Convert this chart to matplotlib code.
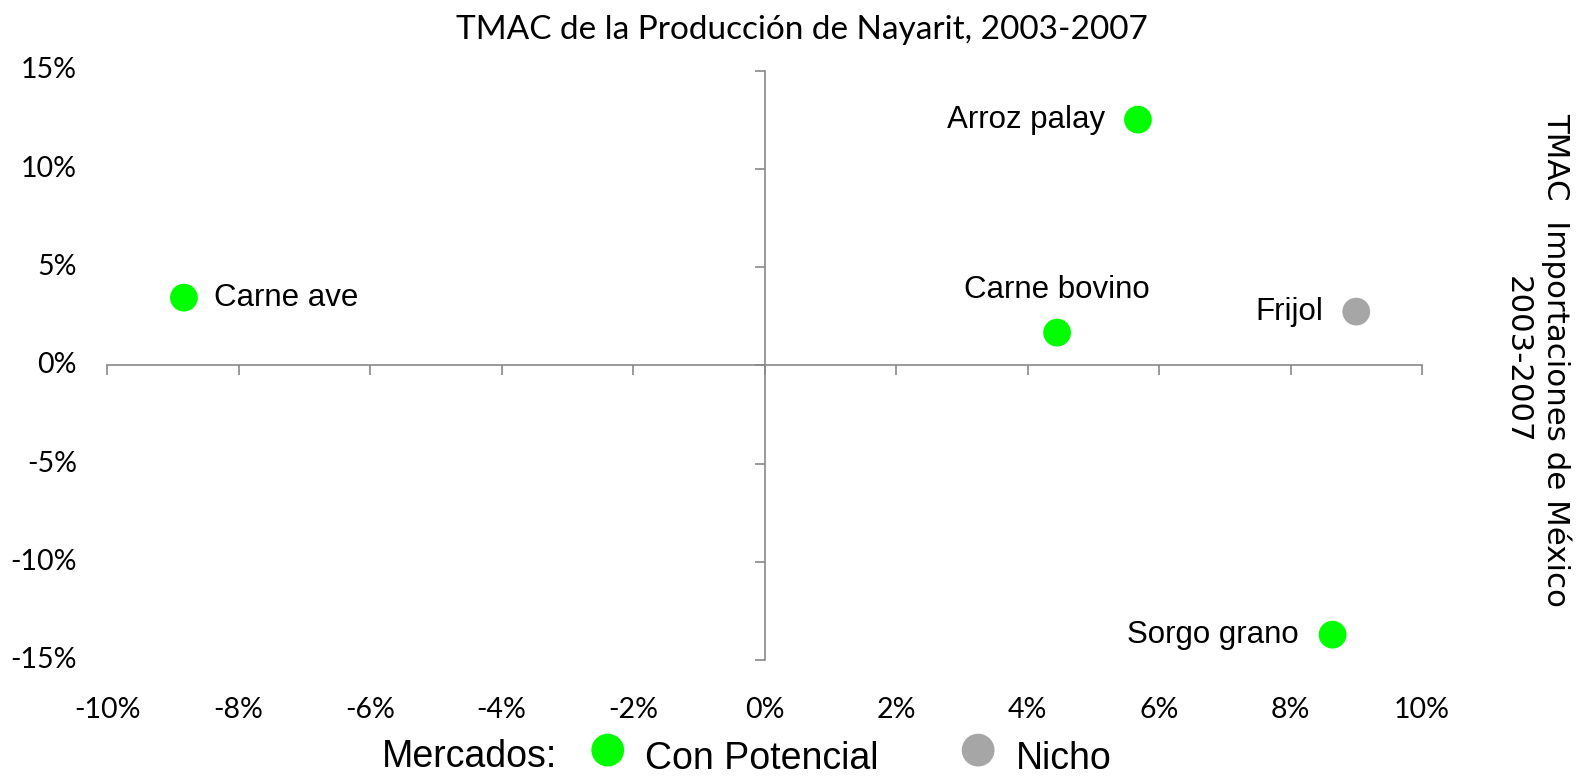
import matplotlib
matplotlib.use("Agg")
import matplotlib.pyplot as plt
import numpy as np

# ---- data ----
products = ["Carne ave", "Arroz palay", "Carne bovino", "Frijol", "Sorgo grano"]
prod_growth = [-8.83, 5.68, 4.45, 9.00, 8.64]      # TMAC Producción Nayarit (%)
import_growth = [3.44, 12.50, 1.66, 2.73, -13.71]  # TMAC Importaciones México (%)
market = ["Con Potencial", "Con Potencial", "Con Potencial", "Nicho", "Con Potencial"]
label_side = ["right", "left", "top", "left", "left"]

market_names = ["Con Potencial", "Nicho"]
market_colors = {"Con Potencial": "#00FF00", "Nicho": "#A6A6A6"}

x_ticks = [-10, -8, -6, -4, -2, 0, 2, 4, 6, 8, 10]
y_ticks = [-15, -10, -5, 0, 5, 10, 15]

title = "TMAC de la Producción de Nayarit, 2003-2007"
right_label = "TMAC  Importaciones de México\n2003-2007"

# ---- figure ----
W, H = 1577, 776
fig = plt.figure(figsize=(W / 100, H / 100), dpi=100)
ax = fig.add_axes([107 / W, 1 - 660 / H, (1422 - 107) / W, (660 - 70.5) / H])

ax.set_xlim(x_ticks[0], x_ticks[-1])
ax.set_ylim(y_ticks[0], y_ticks[-1])

spine_col = "#898989"
for s in ["top", "right"]:
    ax.spines[s].set_visible(False)
ax.spines["left"].set_position(("data", 0))
ax.spines["bottom"].set_position(("data", 0))
for s in ["left", "bottom"]:
    ax.spines[s].set_color(spine_col)
    ax.spines[s].set_linewidth(1.2)

ax.set_xticks(x_ticks)
ax.set_yticks(y_ticks)
ax.tick_params(axis="both", direction="out", length=7.5, width=1.2, color=spine_col,
               labelbottom=False, labelleft=False)

tick_font = dict(family="Lato", fontsize=20.5, color="black")
for xv in x_ticks:
    ax.text(xv, -0.084, f"{xv}%", transform=ax.get_xaxis_transform(),
            ha="center", va="center", **tick_font)
for yv in y_ticks:
    ax.text(-0.023, yv, f"{yv}%", transform=ax.get_yaxis_transform(),
            ha="right", va="center", **tick_font)

# scatter by market type
for m in market_names:
    xs = [x for x, mk in zip(prod_growth, market) if mk == m]
    ys = [y for y, mk in zip(import_growth, market) if mk == m]
    ax.scatter(xs, ys, s=400, color=market_colors[m], edgecolors="none",
               label=m, zorder=3, clip_on=False)

# point labels
offsets = {"right": ((21.5, 0), "left", "center"),
           "left": ((-24, 0), "right", "center"),
           "top": ((0, 31), "center", "center")}
for name, x, y, side in zip(products, prod_growth, import_growth, label_side):
    off, ha, va = offsets[side]
    ax.annotate(name, (x, y), xytext=off, textcoords="offset points",
                ha=ha, va=va, family="Liberation Sans", fontsize=22.5, color="black")

# title
fig.text(802 / W, 1 - 30 / H, title, ha="center", va="center",
         family="Lato", fontsize=24, color="black")

# right axis-style label
fig.text(1537 / W, 1 - 360 / H, right_label, rotation=270, ha="center", va="center",
         multialignment="center", linespacing=1.42,
         family="DejaVu Sans", fontsize=22.2, color="black")

# legend
leg_fs = 27.0
fig.text(382 / W, 1 - 767 / H, "Mercados:", ha="left", va="baseline",
         family="Liberation Sans", fontsize=leg_fs, color="black")
leg = ax.legend(loc="center left", bbox_to_anchor=(589 / W, 1 - 759 / H),
                bbox_transform=fig.transFigure, ncol=2, frameon=False,
                scatterpoints=1, scatteryoffsets=[0.72], markerscale=1.18,
                handlelength=1.0, handletextpad=0.5, columnspacing=2.15,
                borderpad=0, borderaxespad=0,
                prop={"family": "Liberation Sans", "size": leg_fs})

fig.savefig("out.png", dpi=100)
